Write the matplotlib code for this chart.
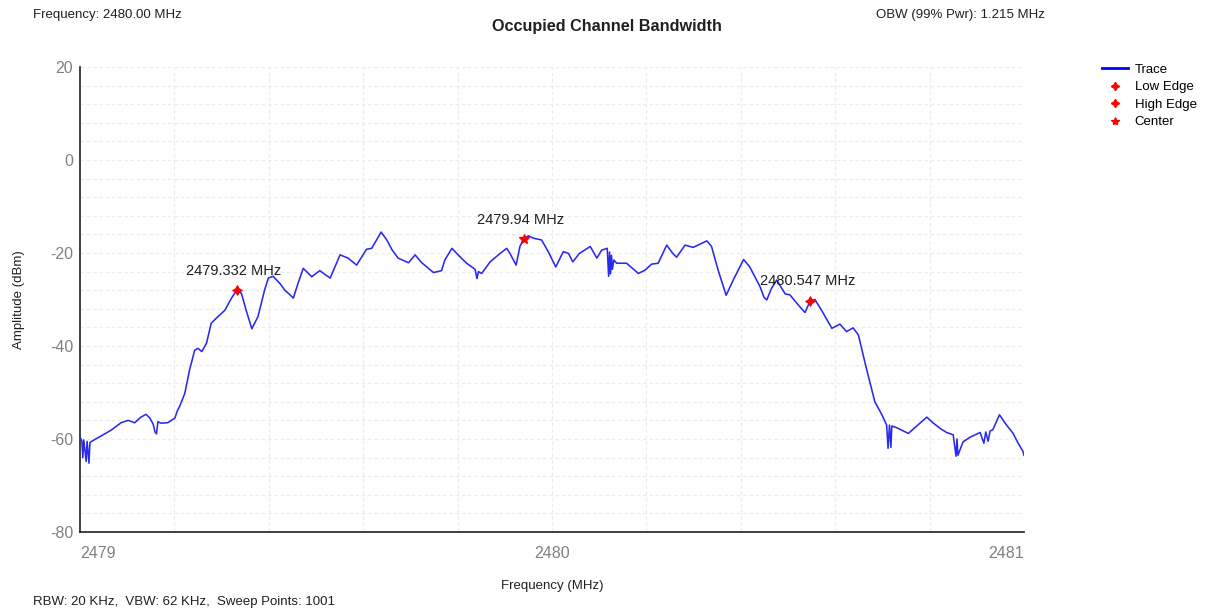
import matplotlib
matplotlib.use("Agg")
import matplotlib.pyplot as plt
from matplotlib.lines import Line2D

plt.rcParams['font.family'] = ['Liberation Sans', 'DejaVu Sans']

# ---- data ----
freq_mhz = [
    2479.000, 2479.004, 2479.006, 2479.008, 2479.013, 2479.015, 2479.019, 2479.021, 2479.023,
    2479.042, 2479.066, 2479.087, 2479.102, 2479.116, 2479.129, 2479.140, 2479.148, 2479.155,
    2479.159, 2479.162, 2479.165, 2479.172, 2479.186, 2479.201, 2479.206, 2479.211, 2479.222,
    2479.232, 2479.243, 2479.250, 2479.258, 2479.268, 2479.278, 2479.289, 2479.307, 2479.321,
    2479.332, 2479.342, 2479.352, 2479.364, 2479.377, 2479.391, 2479.399, 2479.409, 2479.424,
    2479.434, 2479.445, 2479.452, 2479.462, 2479.473, 2479.491, 2479.508, 2479.530, 2479.551,
    2479.568, 2479.586, 2479.607, 2479.618, 2479.638, 2479.650, 2479.661, 2479.674, 2479.696,
    2479.710, 2479.724, 2479.749, 2479.766, 2479.773, 2479.788, 2479.801, 2479.819, 2479.837,
    2479.841, 2479.844, 2479.851, 2479.869, 2479.890, 2479.904, 2479.911, 2479.924, 2479.932,
    2479.940, 2479.950, 2479.960, 2479.978, 2479.992, 2480.008, 2480.024, 2480.035, 2480.044,
    2480.058, 2480.081, 2480.095, 2480.105, 2480.117, 2480.120, 2480.122, 2480.124, 2480.126,
    2480.128, 2480.131, 2480.137, 2480.158, 2480.183, 2480.197, 2480.211, 2480.225, 2480.243,
    2480.256, 2480.264, 2480.282, 2480.299, 2480.328, 2480.338, 2480.352, 2480.369, 2480.384,
    2480.406, 2480.419, 2480.441, 2480.449, 2480.455, 2480.465, 2480.476, 2480.494, 2480.504,
    2480.522, 2480.536, 2480.547, 2480.557, 2480.571, 2480.593, 2480.610, 2480.624, 2480.638,
    2480.649, 2480.667, 2480.684, 2480.699, 2480.709, 2480.712, 2480.715, 2480.718, 2480.720,
    2480.731, 2480.755, 2480.775, 2480.794, 2480.807, 2480.822, 2480.836, 2480.850, 2480.856,
    2480.858, 2480.860, 2480.871, 2480.886, 2480.907, 2480.915, 2480.919, 2480.924, 2480.928,
    2480.934, 2480.948, 2480.963, 2480.977, 2480.987, 2480.998, 2481.000,
]
amp_dbm = [
    -59.5, -60.5, -64.0, -60.2, -64.8, -60.5, -65.2, -60.8, -60.6,
    -59.5, -58.1, -56.5, -56.0, -56.5, -55.3, -54.7, -55.5, -56.8,
    -58.5, -58.9, -56.3, -56.6, -56.5, -55.5, -54.0, -53.0, -50.2,
    -45.2, -40.9, -40.5, -41.2, -39.4, -35.1, -34.0, -32.3, -29.7,
    -28.0, -28.7, -32.3, -36.3, -33.7, -28.0, -25.4, -25.0, -26.6,
    -28.0, -29.0, -29.7, -26.5, -23.3, -25.1, -23.8, -25.4, -20.4,
    -21.1, -22.6, -19.2, -19.0, -15.5, -17.2, -19.3, -21.1, -22.1,
    -20.4, -22.1, -24.2, -23.8, -21.5, -19.0, -20.4, -22.2, -23.5,
    -25.5, -24.0, -24.4, -21.9, -20.1, -19.0, -20.1, -22.6, -18.6,
    -17.0, -16.3, -16.8, -17.2, -19.7, -23.0, -19.7, -20.1, -21.9,
    -20.1, -18.6, -21.1, -19.4, -19.0, -25.0, -19.8, -24.5, -20.5,
    -23.5, -21.5, -22.2, -22.2, -24.4, -23.7, -22.4, -22.2, -18.3,
    -20.1, -20.9, -18.3, -18.8, -17.4, -18.6, -23.7, -29.1, -25.8,
    -21.4, -23.0, -27.3, -29.5, -30.1, -27.6, -25.8, -28.8, -29.0,
    -31.2, -32.8, -30.3, -30.0, -32.3, -36.2, -35.3, -36.9, -36.1,
    -37.6, -45.2, -52.0, -54.8, -57.0, -62.0, -57.0, -61.8, -57.2,
    -57.6, -58.8, -57.0, -55.3, -56.5, -57.7, -58.6, -59.1, -63.7,
    -60.0, -63.5, -60.6, -59.6, -58.6, -60.9, -58.5, -60.5, -58.3,
    -58.0, -54.8, -57.0, -58.8, -60.8, -62.7, -63.5,
]

edge_freqs = [2479.332, 2480.547]
edge_amps = [-28.0, -30.3]
edge_labels = ["2479.332 MHz", "2480.547 MHz"]
center_freq = [2479.94]
center_amp = [-17.0]
center_labels = ["2479.94 MHz"]

x_ticks = [2479, 2480, 2481]
y_ticks = [20, 0, -20, -40, -60, -80]

# ---- figure ----
fig = plt.figure(figsize=(12.08, 6.15), dpi=100)
ax = fig.add_axes([80 / 1208, 1 - 532 / 615, (1024 - 80) / 1208, (532 - 67) / 615])

ax.set_xlim(2479, 2481)
ax.set_ylim(-80, 20)

# grid
grid_kw = dict(color='#ededed', linewidth=0.9, linestyle=(0, (3, 2)), zorder=0)
for i in range(1, 11):
    ax.axvline(2479 + 0.2 * i, **grid_kw)
for v in range(-76, 21, 4):
    ax.axhline(v, **grid_kw)

trace, = ax.plot(freq_mhz, amp_dbm, color='#2a2aee', linewidth=1.15, zorder=3)

ax.plot(edge_freqs, edge_amps, linestyle='none', marker=(4, 1, 0), markersize=7,
        color='red', markeredgewidth=0.8, zorder=4)
ax.plot(center_freq, center_amp, linestyle='none', marker='*', markersize=7.5,
        color='red', zorder=4)

for f, a, lab in zip(edge_freqs + center_freq, edge_amps + center_amp,
                     edge_labels + center_labels):
    ax.annotate(lab, (f, a), xytext=(-2, 9), textcoords='offset points',
                ha='center', va='bottom', fontsize=10.5, color='#202020', zorder=5)

for s in ['top', 'right']:
    ax.spines[s].set_visible(False)
ax.spines['left'].set_color('#202020')
ax.spines['bottom'].set_color('#202020')
ax.spines['left'].set_linewidth(1.2)
ax.spines['bottom'].set_linewidth(1.2)

ax.set_yticks(y_ticks)
ax.set_yticklabels([str(v) for v in y_ticks])
ax.set_xticks(x_ticks)
ax.set_xticklabels([str(v) for v in x_ticks])
ax.tick_params(axis='both', length=0, labelsize=11.5, labelcolor='#808080')
ax.tick_params(axis='x', pad=10)
ax.tick_params(axis='y', pad=5)
xl = ax.get_xticklabels()
xl[0].set_ha('left')
xl[-1].set_ha('right')

ax.set_xlabel('Frequency (MHz)', fontsize=9.5, color='#202020', labelpad=14)
ax.set_ylabel('Amplitude (dBm)', fontsize=9.5, color='#202020', labelpad=18)

fig.text(33 / 1208, 1 - 15 / 615, 'Frequency: 2480.00 MHz', fontsize=9.5,
         ha='left', va='center', color='#202020')
fig.text(607 / 1208, 1 - 26 / 615, 'Occupied Channel Bandwidth', fontsize=11.7,
         fontweight='bold', ha='center', va='center', color='#202020')
fig.text(1045 / 1208, 1 - 15 / 615, 'OBW (99% Pwr): 1.215 MHz', fontsize=9.5,
         ha='right', va='center', color='#202020')
fig.text(33 / 1208, 1 - 602 / 615, 'RBW: 20 KHz,  VBW: 62 KHz,  Sweep Points: 1001',
         fontsize=9.5, ha='left', va='center', color='#202020')

handles = [
    Line2D([], [], color='#0000ff', linewidth=2),
    Line2D([], [], color='red', marker=(4, 1, 0), linestyle='none', markersize=6),
    Line2D([], [], color='red', marker=(4, 1, 0), linestyle='none', markersize=6),
    Line2D([], [], color='red', marker='*', linestyle='none', markersize=6),
]
fig.legend(handles, ['Trace', 'Low Edge', 'High Edge', 'Center'],
           loc='upper left', bbox_to_anchor=(1095 / 1208, 1 - 57 / 615),
           frameon=False, fontsize=9.5, handlelength=2.0, handletextpad=0.5,
           labelspacing=0.4, borderpad=0)

fig.savefig('out.png', dpi=100, facecolor='white')
